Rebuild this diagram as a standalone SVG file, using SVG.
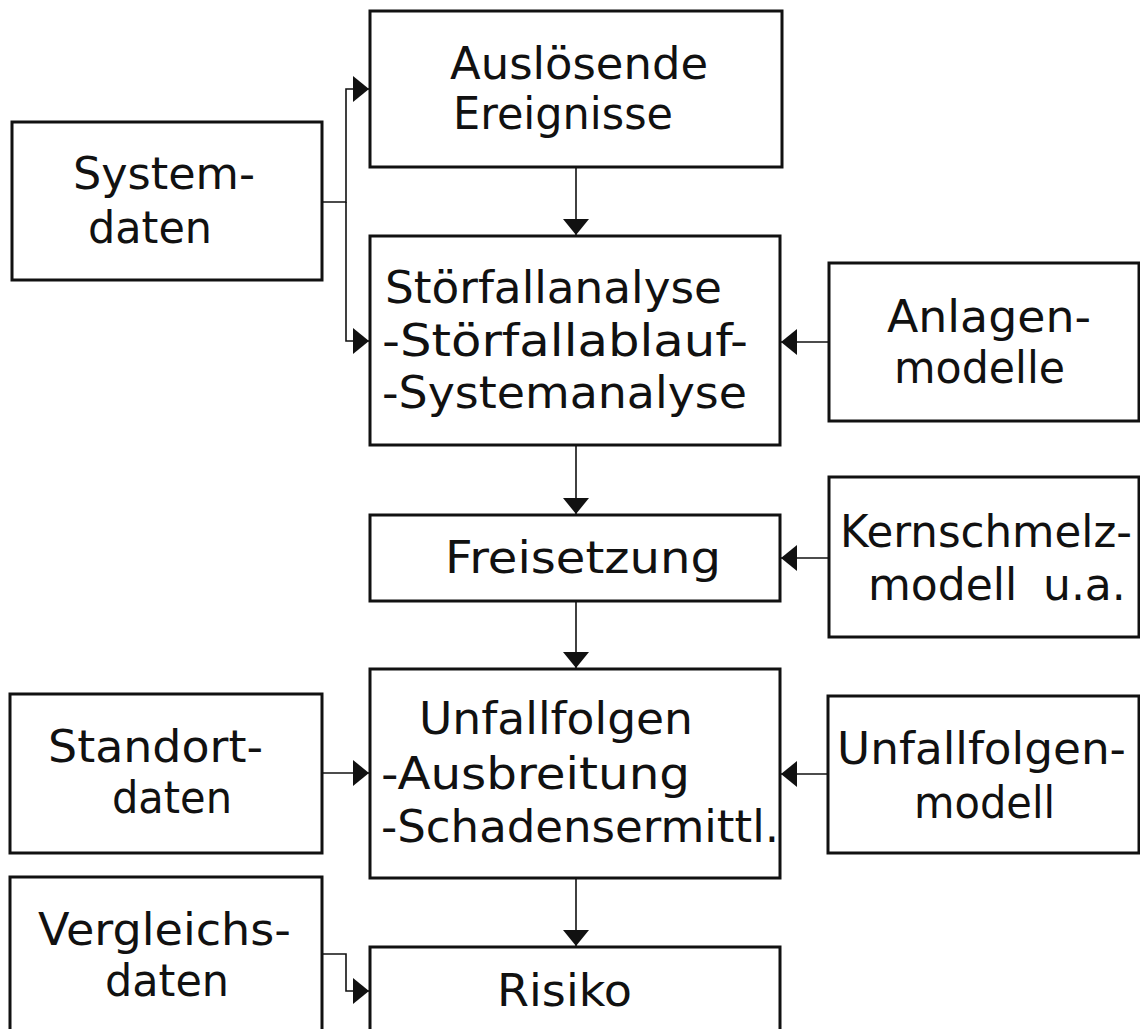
<svg xmlns="http://www.w3.org/2000/svg" width="1140" height="1029" viewBox="0 0 1140 1029">
<style>
.box{fill:#fff;stroke:#111;stroke-width:3}
.t{font-family:"DejaVu Sans","Liberation Sans",sans-serif;font-size:44px;fill:#111}
.c{fill:none;stroke:#111;stroke-width:1.6}
</style>
<defs>
<marker id="ah" markerUnits="userSpaceOnUse" markerWidth="17" markerHeight="26" refX="16" refY="13" orient="auto">
<path d="M0,0 L16,13 L0,26 z" fill="#111"/>
</marker>
</defs>
<rect width="1140" height="1029" fill="#fff"/>
<g id="connectors">
<path class="c" d="M322,202 H346 V89 H369" marker-end="url(#ah)"/>
<path class="c" d="M346,202 V341 H369" marker-end="url(#ah)"/>
<path class="c" d="M576,167 V235" marker-end="url(#ah)"/>
<path class="c" d="M576,445 V514" marker-end="url(#ah)"/>
<path class="c" d="M576,601 V668" marker-end="url(#ah)"/>
<path class="c" d="M576,878 V946" marker-end="url(#ah)"/>
<path class="c" d="M829,342 H781" marker-end="url(#ah)"/>
<path class="c" d="M829,558 H781" marker-end="url(#ah)"/>
<path class="c" d="M828,774 H781" marker-end="url(#ah)"/>
<path class="c" d="M322,773 H369" marker-end="url(#ah)"/>
<path class="c" d="M322,954 H346 V991 H369" marker-end="url(#ah)"/>
</g>
<g id="systemdaten">
<rect class="box" x="12" y="122" width="310" height="158"/>
<text class="t" x="73" y="189" textLength="182" lengthAdjust="spacingAndGlyphs">System-</text>
<text class="t" x="88" y="243" textLength="124" lengthAdjust="spacingAndGlyphs">daten</text>
</g>
<g id="ausloesende">
<rect class="box" x="370" y="11" width="412" height="156"/>
<text class="t" x="450" y="79" textLength="258" lengthAdjust="spacingAndGlyphs">Auslösende</text>
<text class="t" x="453" y="129" textLength="220" lengthAdjust="spacingAndGlyphs">Ereignisse</text>
</g>
<g id="stoerfallanalyse">
<rect class="box" x="370" y="236" width="410" height="209"/>
<text class="t" x="385" y="303" textLength="337" lengthAdjust="spacingAndGlyphs">Störfallanalyse</text>
<text class="t" x="382" y="356" textLength="366" lengthAdjust="spacingAndGlyphs">-Störfallablauf-</text>
<text class="t" x="382" y="408" textLength="365" lengthAdjust="spacingAndGlyphs">-Systemanalyse</text>
</g>
<g id="anlagenmodelle">
<rect class="box" x="829" y="263" width="310" height="158"/>
<text class="t" x="887" y="332" textLength="204" lengthAdjust="spacingAndGlyphs">Anlagen-</text>
<text class="t" x="894" y="383" textLength="171" lengthAdjust="spacingAndGlyphs">modelle</text>
</g>
<g id="freisetzung">
<rect class="box" x="370" y="515" width="410" height="86"/>
<text class="t" x="445" y="573" textLength="276" lengthAdjust="spacingAndGlyphs">Freisetzung</text>
</g>
<g id="kernschmelzmodell">
<rect class="box" x="829" y="477" width="310" height="160"/>
<text class="t" x="840" y="547" textLength="292" lengthAdjust="spacingAndGlyphs">Kernschmelz-</text>
<text class="t" x="868" y="600">modell <tspan x="1043">u.a.</tspan></text>
</g>
<g id="standortdaten">
<rect class="box" x="10" y="694" width="312" height="159"/>
<text class="t" x="48" y="762" textLength="215" lengthAdjust="spacingAndGlyphs">Standort-</text>
<text class="t" x="112" y="813" textLength="120" lengthAdjust="spacingAndGlyphs">daten</text>
</g>
<g id="unfallfolgen">
<rect class="box" x="370" y="669" width="410" height="209"/>
<text class="t" x="419" y="734" textLength="274" lengthAdjust="spacingAndGlyphs">Unfallfolgen</text>
<text class="t" x="381" y="789" textLength="309" lengthAdjust="spacingAndGlyphs">-Ausbreitung</text>
<text class="t" x="381" y="842" textLength="398" lengthAdjust="spacingAndGlyphs">-Schadensermittl.</text>
</g>
<g id="unfallfolgenmodell">
<rect class="box" x="828" y="696" width="311" height="157"/>
<text class="t" x="837" y="764" textLength="289" lengthAdjust="spacingAndGlyphs">Unfallfolgen-</text>
<text class="t" x="914" y="818" textLength="141" lengthAdjust="spacingAndGlyphs">modell</text>
</g>
<g id="vergleichsdaten">
<rect class="box" x="10" y="877" width="312" height="170"/>
<text class="t" x="38" y="945" textLength="253" lengthAdjust="spacingAndGlyphs">Vergleichs-</text>
<text class="t" x="105" y="996" textLength="124" lengthAdjust="spacingAndGlyphs">daten</text>
</g>
<g id="risiko">
<rect class="box" x="370" y="947" width="410" height="100"/>
<text class="t" x="497" y="1006" textLength="135" lengthAdjust="spacingAndGlyphs">Risiko</text>
</g>
</svg>
